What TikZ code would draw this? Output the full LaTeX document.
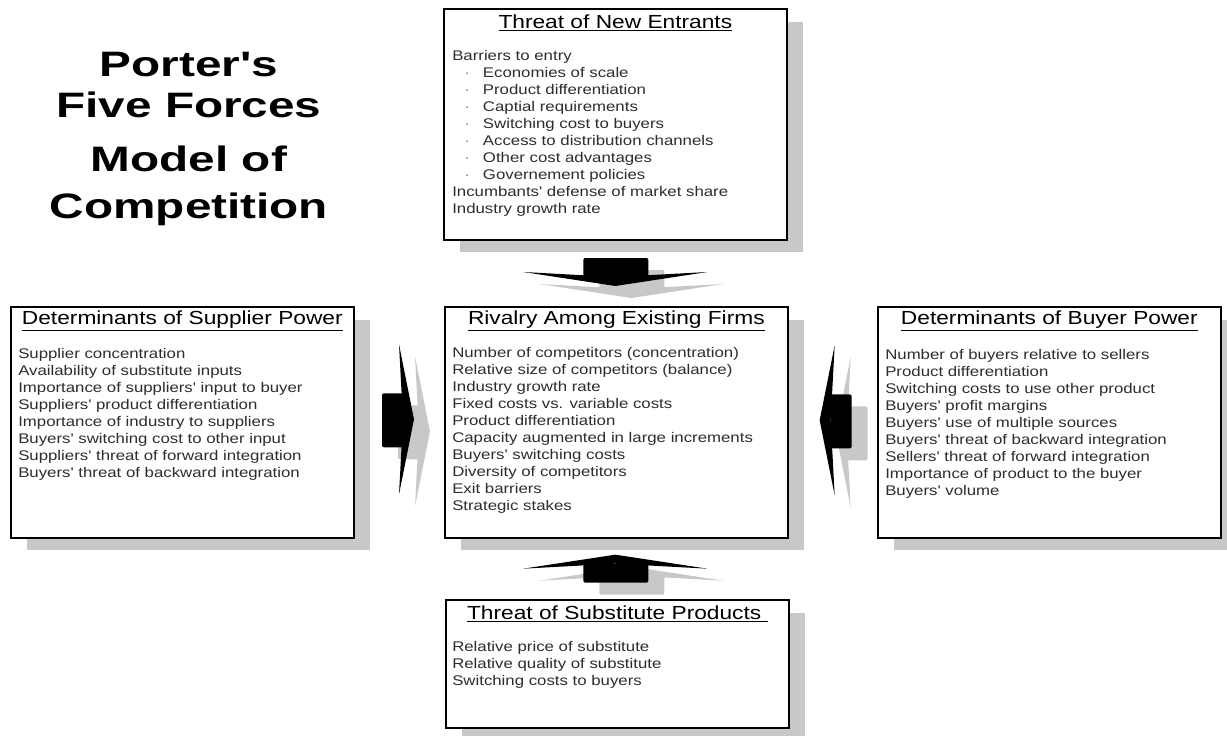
\documentclass[tikz,border=0pt]{standalone}
\usepackage{fontspec}
\setmainfont{Liberation Sans}
\newfontfamily\schrift{Liberation Sans}[FakeStretch=1.2]
\newfontfamily\titelschrift{Liberation Sans}[FakeStretch=1.35]
\usetikzlibrary{positioning,calc,shadows}
\definecolor{schatten}{RGB}{200,200,200}
\definecolor{textgrau}{RGB}{45,45,45}
\newcommand{\punkt}[1]{\hspace*{9pt}\makebox[14pt][l]{\textcolor{gray}{·}}#1}

\tikzset{
  kasten/.style={draw=black, line width=1.5pt, fill=white, anchor=north west,
    inner sep=0pt, minimum width=257pt, minimum height=173pt,
    drop shadow={shadow xshift=12pt, shadow yshift=-9.5pt, fill=schatten, opacity=1}},
  kopf/.style={font=\schrift\fontsize{14.2}{16}\selectfont, inner sep=0pt},
  liste/.style={anchor=north west, align=left, inner sep=0pt, text=textgrau,
    font=\schrift\fontsize{10.5}{12.75}\selectfont},
  titel/.style={anchor=base, inner sep=0pt, font=\titelschrift\fontsize{26.5}{30}\selectfont\bfseries},
  % Blockpfeil nach unten, Spitze im Ursprung
  pfeilv/.pic={
    \fill[rounded corners=1.5pt] (-32,-28) rectangle (33,-9);
    \fill (-92,-14) -- (0,-9) -- (92,-14) -- (0,0) -- cycle;
  },
  % Blockpfeil nach rechts, Spitze im Ursprung
  pfeilh/.pic={
    \fill[rounded corners=1.5pt] (-32,-26) rectangle (-11,28);
    \fill (-15,-75) -- (-11,0) -- (-15,75) -- (0,0) -- cycle;
  },
}

\begin{document}
\begin{tikzpicture}[x=0.75pt, y=-0.75pt]
  \useasboundingbox (0,0) rectangle (1227,735);

  % Titel
  \foreach \zeile/\y/\text in {1/77/Porter's, 2/117/Five Forces, 3/171/Model of, 4/218/Competition} {
      \node (titel\zeile) at (189,\y) [titel] {\text};
  }

  % Kaesten
  \node (entrants) at (443,8) [kasten] {};
  \node (supplier) at (10,306) [kasten] {};
  \node (rivalry) at (444,306) [kasten] {};
  \node (buyer) at (877,306) [kasten] {};
  \node (substitute) at (445,599) [kasten, minimum height=96pt] {};

  % Ueberschriften
  \foreach \kname/\ktitel in {
      entrants/Threat of New Entrants,
      supplier/Determinants of Supplier Power,
      rivalry/Rivalry Among Existing Firms,
      buyer/Determinants of Buyer Power,
      substitute/Threat of Substitute Products
  } {
      \node (\kname-kopf) at ($(\kname.north)+(0,15)$) [kopf] {\underline{\ktitel}};
  }

  % Listen
  \node (entrants-liste) at ($(entrants.north west)+(9,42)$) [liste] {%
    Barriers to entry\\
    \punkt{Economies of scale}\\
    \punkt{Product differentiation}\\
    \punkt{Captial requirements}\\
    \punkt{Switching cost to buyers}\\
    \punkt{Access to distribution channels}\\
    \punkt{Other cost advantages}\\
    \punkt{Governement policies}\\
    Incumbants' defense of market share\\
    Industry growth rate};
  \node (supplier-liste) at ($(supplier.north west)+(8,42)$) [liste] {%
    Supplier concentration\\
    Availability of substitute inputs\\
    Importance of suppliers' input to buyer\\
    Suppliers' product differentiation\\
    Importance of industry to suppliers\\
    Buyers' switching cost to other input\\
    Suppliers' threat of forward integration\\
    Buyers' threat of backward integration};
  \node (rivalry-liste) at ($(rivalry.north west)+(8,41)$) [liste] {%
    Number of competitors (concentration)\\
    Relative size of competitors (balance)\\
    Industry growth rate\\
    Fixed costs vs. variable costs\\
    Product differentiation\\
    Capacity augmented in large increments\\
    Buyers' switching costs\\
    Diversity of competitors\\
    Exit barriers\\
    Strategic stakes};
  \node (buyer-liste) at ($(buyer.north west)+(8,43)$) [liste] {%
    Number of buyers relative to sellers\\
    Product differentiation\\
    Switching costs to use other product\\
    Buyers' profit margins\\
    Buyers' use of multiple sources\\
    Buyers' threat of backward integration\\
    Sellers' threat of forward integration\\
    Importance of product to the buyer\\
    Buyers' volume};
  \node (substitute-liste) at ($(substitute.north west)+(7,42)$) [liste] {%
    Relative price of substitute\\
    Relative quality of substitute\\
    Switching costs to buyers};

  % Pfeile (erst Schatten, dann schwarz)
  \foreach \dx/\dy/\farbe in {16/12/schatten, 0/0/black} {
      \pic[color=\farbe] at ($(rivalry.north)+(-1+\dx,-20+\dy)$) {pfeilv};
      \pic[color=\farbe, yscale=-1] at ($(rivalry.south)+(-1+\dx,16+\dy)$) {pfeilv};
      \pic[color=\farbe] at ($(rivalry.west)+(-30+\dx,-3+\dy)$) {pfeilh};
      \pic[color=\farbe, xscale=-1] at ($(rivalry.east)+(31+\dx,-2+\dy)$) {pfeilh};
  }
\end{tikzpicture}
\end{document}
